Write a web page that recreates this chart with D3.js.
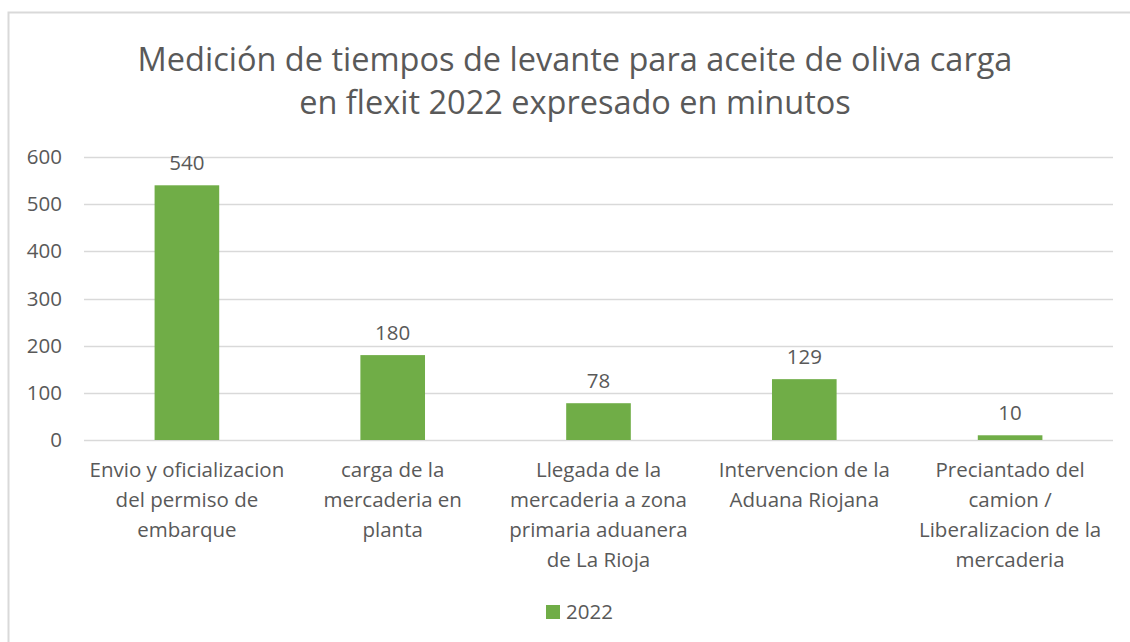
<!DOCTYPE html>
<html>
<head>
<meta charset="utf-8">
<script src="https://cdn.jsdelivr.net/npm/d3@7"></script>
<style>
  body { margin: 0; background: #fff; }
  text { font-family: "Open Sans", sans-serif; fill: #595959; }
</style>
</head>
<body>
<svg id="chart"></svg>
<script>
// chart data
const titleLines = ['Medición de tiempos de levante para aceite de oliva carga', 'en flexit 2022 expresado en minutos'];
const categories = [
    'Envio y oficializacion\ndel permiso de\nembarque',
    'carga de la\nmercaderia en\nplanta',
    'Llegada de la\nmercaderia a zona\nprimaria aduanera\nde La Rioja',
    'Intervencion de la\nAduana Riojana',
    'Preciantado del\ncamion /\nLiberalizacion de la\nmercaderia'
];
const values2022 = [540, 180, 78, 129, 10];
const seriesName = '2022';
const yTicks = [0, 100, 200, 300, 400, 500, 600];

const width = 1130, height = 642;
const margin = {top: 157, right: 17, bottom: 202, left: 84};
const innerW = width - margin.left - margin.right;
const innerH = height - margin.top - margin.bottom;
const barColor = '#70AD47';
const fs = '20.5px';

const svg = d3.select('#chart')
    .attr('width', width)
    .attr('height', height);

// outer border
svg.append('rect')
    .attr('x', 8.5).attr('y', 12.5)
    .attr('width', width + 20).attr('height', height + 20)
    .attr('fill', 'none')
    .attr('stroke', '#d9d9d9')
    .attr('stroke-width', 2);

svg.append('g').selectAll('text')
    .data(titleLines)
    .join('text')
    .attr('x', 575)
    .attr('y', (d, i) => 71 + i * 43)
    .attr('text-anchor', 'middle')
    .style('font-size', '32.5px')
    .text(d => d);

const chart = svg.append('g')
    .attr('transform', `translate(${margin.left}, ${margin.top})`);

const xscale = d3.scaleBand()
    .domain(categories)
    .range([0, innerW])
    .paddingInner(0.686)
    .paddingOuter(0.343);

const yscale = d3.scaleLinear()
    .domain([0, 600])
    .range([innerH, 0]);

// gridlines
chart.append('g').selectAll('line')
    .data(yTicks)
    .join('line')
    .attr('x1', 0).attr('x2', innerW)
    .attr('y1', d => Math.round(yscale(d)) + 0.5)
    .attr('y2', d => Math.round(yscale(d)) + 0.5)
    .attr('stroke', '#d9d9d9')
    .attr('stroke-width', 1.5);

// y axis labels
const yaxis = d3.axisLeft(yscale).tickValues(yTicks).tickSize(0).tickPadding(22);
chart.append('g')
    .call(yaxis)
    .call(g => g.select('.domain').remove())
    .selectAll('text')
    .style('font-size', fs)
    .style('font-family', '"Open Sans", sans-serif')
    .attr('fill', '#595959');

// bars
chart.selectAll('.bar')
    .data(values2022)
    .join('rect')
    .attr('class', 'bar')
    .attr('x', (d, i) => xscale(categories[i]))
    .attr('y', d => yscale(d))
    .attr('width', xscale.bandwidth())
    .attr('height', d => innerH - yscale(d))
    .attr('fill', barColor);

// value labels
chart.selectAll('.val')
    .data(values2022)
    .join('text')
    .attr('class', 'val')
    .attr('x', (d, i) => xscale(categories[i]) + xscale.bandwidth() / 2)
    .attr('y', d => yscale(d) - 15)
    .attr('text-anchor', 'middle')
    .style('font-size', fs)
    .text(d => d);

// category labels
const xlab = chart.append('g').selectAll('text')
    .data(categories)
    .join('text')
    .attr('text-anchor', 'middle')
    .attr('transform', d => `translate(${xscale(d) + xscale.bandwidth() / 2}, ${innerH + 37})`)
    .style('font-size', fs);
xlab.selectAll('tspan')
    .data(d => d.split('\n'))
    .join('tspan')
    .attr('x', 0)
    .attr('y', (d, i) => i * 30)
    .text(d => d);

// legend
const legend = svg.append('g').attr('transform', 'translate(546, 605)');
legend.append('rect')
    .attr('width', 14).attr('height', 14)
    .attr('fill', barColor);
legend.append('text')
    .attr('x', 20).attr('y', 14)
    .style('font-size', fs)
    .text(seriesName);
</script>
</body>
</html>
